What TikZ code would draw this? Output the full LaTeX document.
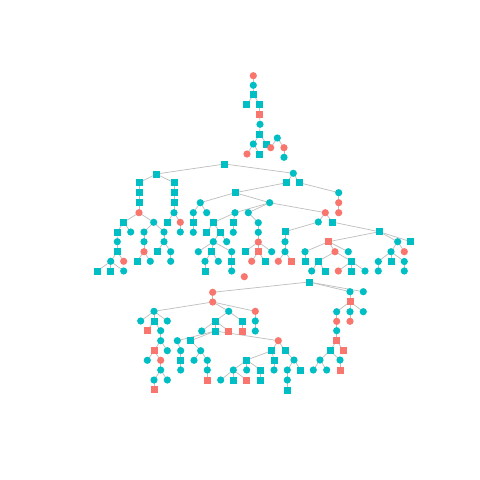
\documentclass[tikz,border=0pt]{standalone}
\usetikzlibrary{backgrounds}
\definecolor{cy}{HTML}{00BFC4}
\definecolor{rd}{HTML}{F8766D}
\definecolor{eg}{HTML}{BEBEBE}
\begin{document}
\begin{tikzpicture}[x=1pt,y=-1pt,
  cc/.style={circle,fill=cy,inner sep=0pt,minimum size=7.2pt},
  rc/.style={circle,fill=rd,inner sep=0pt,minimum size=7.2pt},
  cs/.style={rectangle,fill=cy,inner sep=0pt,minimum size=7pt},
  rs/.style={rectangle,fill=rd,inner sep=0pt,minimum size=7pt},
  edge/.style={draw=eg,line width=0.7pt}]
\useasboundingbox (0,0) rectangle (480,480);
% component A
\node[rc] (a1) at (253.3,75.7) {};
\node[cc] (a2) at (253.3,85.3) {};
\node[cs] (a3) at (253.5,94.7) {};
\node[cs] (a4) at (246.7,104.7) {};
\node[cs] (a5) at (259.7,104.7) {};
\node[rs] (a6) at (259.7,114.7) {};
\node[cc] (a7) at (260,124.3) {};
\node[cs] (a8) at (259.7,134.3) {};
\node[cc] (a9) at (253.3,144) {};
\node[cs] (a10) at (266.7,144) {};
\node[rc] (a11) at (247,154) {};
\node[cs] (a12) at (259.7,154) {};
% component B
\node[cc] (b1) at (277.3,138) {};
\node[rc] (b2) at (270.7,147.7) {};
\node[rc] (b3) at (284,147.7) {};
\node[cc] (b4) at (284,157.3) {};
% main component
\node[cs] (c0) at (224.7,164) {};
\node[cs] (L0) at (156.3,174) {};
\node[cs] (L1) at (139,182.7) {};
\node[cs] (L2) at (139,192.7) {};
\node[cs] (L3) at (139,202.7) {};
\node[rc] (L4) at (139,212.7) {};
\node[cs] (R1) at (174,182.7) {};
\node[cs] (R2) at (174,192.7) {};
\node[cs] (R3) at (174,202.7) {};
\node[cc] (R4) at (174,212.7) {};
\node[cs] (L5) at (123.7,222.3) {};
\node[cc] (L6) at (153.7,222.3) {};
\node[cs] (L7) at (117,232) {};
\node[cc] (L8) at (130.7,232) {};
\node[cc] (L9) at (117.3,241.7) {};
\node[cs] (L10) at (117.3,251.7) {};
\node[cc] (L11) at (110.7,261.3) {};
\node[rc] (L12) at (123.7,261.3) {};
\node[cs] (L13) at (97.3,271) {};
\node[cs] (L14) at (110.7,271) {};
\node[cc] (L15) at (123.7,271) {};
\node[cc] (L16) at (144,232) {};
\node[cc] (L17) at (164,232) {};
\node[cc] (L18) at (144,241.7) {};
\node[rc] (L19) at (144,251.7) {};
\node[cs] (L20) at (137,261.3) {};
\node[cc] (L21) at (150.3,261.3) {};
\node[cc] (L22) at (164,241.7) {};
\node[cs] (L23) at (157,251.7) {};
\node[cc] (L24) at (170.7,251.7) {};
\node[cc] (L25) at (170.7,261.3) {};
\node[cs] (R5) at (167,222.3) {};
\node[rc] (R6) at (180.3,222.3) {};
\node[cc] (R7) at (180.3,232) {};
\node[cc] (M0) at (293.3,173.3) {};
\node[cs] (M1) at (286.7,182.7) {};
\node[cs] (M2) at (299.3,182.7) {};
\node[cc] (M3) at (338.7,192.7) {};
\node[rc] (M4) at (338.7,202.7) {};
\node[rc] (M5) at (338.7,212.7) {};
\node[cs] (M6) at (235,192.7) {};
\node[cc] (M7) at (200.3,202.7) {};
\node[cc] (M8) at (269.7,202.7) {};
\node[cc] (M9) at (193.3,212.7) {};
\node[cc] (M10) at (206.7,212.7) {};
\node[cs] (M11) at (193.3,222.5) {};
\node[cc] (M12) at (193.3,232.3) {};
\node[cc] (M13) at (235,212.7) {};
\node[cc] (M14) at (248.3,212.7) {};
\node[rc] (M15) at (325.3,212.7) {};
\node[cs] (M16) at (213.3,222.7) {};
\node[cs] (M17) at (233.3,222.7) {};
\node[cs] (M18) at (206.7,232.3) {};
\node[cs] (M19) at (220,232.3) {};
\node[cc] (M20) at (213.3,241.7) {};
\node[cc] (M21) at (226.7,241.7) {};
\node[cc] (M22) at (198.3,251.7) {};
\node[cs] (M23) at (211.7,251.7) {};
\node[cc] (M24) at (231.7,251.7) {};
\node[cc] (M25) at (205,261.3) {};
\node[cc] (M26) at (218.3,261.3) {};
\node[cs] (M27) at (205,271) {};
\node[cs] (M28) at (231.7,261.3) {};
\node[cc] (M29) at (231.7,271) {};
\node[cc] (M30) at (233.3,232.3) {};
\node[cc] (M31) at (258.3,222.7) {};
\node[cc] (M32) at (258.3,232.3) {};
\node[rc] (M33) at (258.3,242) {};
\node[cs] (M34) at (245,251.7) {};
\node[rs] (M35) at (258.3,251.7) {};
\node[cc] (M36) at (271.7,251.7) {};
\node[rc] (M37) at (251.7,261.3) {};
\node[cs] (M38) at (265,261.3) {};
\node[cc] (M39) at (318.3,222) {};
\node[cs] (M40) at (332,222) {};
\node[cs] (M41) at (285,231.7) {};
\node[cc] (M42) at (285,241.7) {};
\node[cc] (M43) at (285,251.7) {};
\node[rc] (M44) at (278.3,261.3) {};
\node[rs] (M45) at (291.7,261.3) {};
\node[cs] (M46) at (379.3,231.7) {};
\node[rs] (M47) at (328.5,241.7) {};
\node[cc] (M48) at (397.7,241.7) {};
\node[cs] (M49) at (410.7,241.7) {};
\node[cc] (M50) at (305,251.7) {};
\node[cs] (M51) at (305,261.3) {};
\node[rc] (M52) at (335,251.7) {};
\node[cc] (M53) at (348.3,251.7) {};
\node[cs] (M54) at (318.3,261.3) {};
\node[cc] (M55) at (311.7,271) {};
\node[cs] (M56) at (325,271) {};
\node[cs] (M57) at (351.5,261.3) {};
\node[rc] (M58) at (338.3,271) {};
\node[cs] (M59) at (351.5,271) {};
\node[cc] (M60) at (365,271) {};
\node[cc] (M61) at (391,251.7) {};
\node[rc] (M62) at (404.3,251.7) {};
\node[cc] (M63) at (378.3,261.5) {};
\node[cs] (M64) at (391,261.5) {};
\node[cc] (M65) at (404.3,261.5) {};
\node[cc] (M66) at (378.3,271) {};
\node[cc] (M67) at (404.3,271) {};
% isolated
\node[rc] (F1) at (244.3,276.7) {};
% bottom component
\node[cs] (D0) at (309,282) {};
\node[rc] (D1) at (212.7,292.3) {};
\node[rc] (D2) at (212.7,302) {};
\node[cc] (D3) at (154,311.3) {};
\node[cc] (D4) at (228.7,311.3) {};
\node[rc] (D5) at (255.3,311.3) {};
\node[cc] (D6) at (140.7,321) {};
\node[cs] (D7) at (154,321) {};
\node[cc] (D8) at (167.3,321) {};
\node[rs] (D9) at (147.3,330.7) {};
\node[cc] (D10) at (160.7,330.7) {};
\node[cc] (D11) at (160.7,340.7) {};
\node[rs] (D12) at (154,350.7) {};
\node[cc] (D13) at (167.3,350.7) {};
\node[cc] (D14) at (147.3,360.3) {};
\node[rc] (D15) at (160.7,360.3) {};
\node[cc] (D16) at (160.7,370) {};
\node[cc] (D17) at (154,380) {};
\node[cc] (D18) at (167.3,380) {};
\node[rs] (D19) at (154,389.7) {};
\node[cs] (D20) at (215.3,321) {};
\node[cs] (D21) at (242,321) {};
\node[cc] (D22) at (201.7,331) {};
\node[cs] (D23) at (215.3,331) {};
\node[rs] (D24) at (228.7,331) {};
\node[rs] (D25) at (242,331) {};
\node[cc] (D26) at (255.3,321) {};
\node[cc] (D27) at (255.3,331) {};
\node[cc] (D28) at (177.3,340.7) {};
\node[cs] (D29) at (190.7,340.7) {};
\node[rc] (D30) at (278.3,340.7) {};
\node[cc] (D31) at (180.7,350.7) {};
\node[cs] (D32) at (180.7,360.3) {};
\node[cc] (D33) at (180.7,370) {};
\node[cc] (D34) at (200.7,350.7) {};
\node[cc] (D35) at (194,360.3) {};
\node[cc] (D36) at (207.3,360.3) {};
\node[cc] (D37) at (207.3,370) {};
\node[rs] (D38) at (207.3,380) {};
\node[cs] (D39) at (271.7,350.7) {};
\node[cs] (D40) at (285,350.7) {};
\node[cs] (D41) at (246.7,360) {};
\node[cs] (D42) at (274,360) {};
\node[cc] (D43) at (294,360) {};
\node[cc] (D44) at (233.3,370) {};
\node[cc] (D45) at (246.7,370) {};
\node[cs] (D46) at (260.7,370) {};
\node[cc] (D47) at (220.7,380) {};
\node[cs] (D48) at (233.3,380) {};
\node[rs] (D49) at (246.7,380) {};
\node[cs] (D50) at (260.7,380) {};
\node[cc] (D51) at (274,370) {};
\node[cc] (D52) at (287.3,370) {};
\node[cs] (D53) at (300.7,370) {};
\node[cc] (D54) at (287.3,380) {};
\node[cs] (D55) at (287.3,390) {};
\node[cc] (E1) at (350,291.7) {};
\node[cc] (E2) at (363.3,291.7) {};
\node[rs] (E3) at (350,301.7) {};
\node[cc] (E4) at (336.7,311.7) {};
\node[cc] (E5) at (350,311.7) {};
\node[cc] (E6) at (363.3,311.7) {};
\node[rc] (E7) at (336.7,321.3) {};
\node[rc] (E8) at (350,321.3) {};
\node[cc] (E9) at (336.7,330.7) {};
\node[rs] (E10) at (336.7,340.7) {};
\node[cs] (E11) at (330,350.7) {};
\node[rs] (E12) at (343.3,350.7) {};
\node[cc] (E13) at (320,360) {};
\node[cc] (E14) at (340,360) {};
\node[cc] (E15) at (313.3,370) {};
\node[cc] (E16) at (326.7,370) {};
\node[rs] (E17) at (340,370) {};
\begin{scope}[on background layer]
\fill[white] (0,0) rectangle (480,480);
\foreach \u/\v in {a1/a2,a2/a3,a3/a4,a3/a5,a5/a6,a6/a7,a7/a8,a8/a9,a8/a10,a9/a11,a9/a12,
  b1/b2,b1/b3,b3/b4,
  c0/L0,L0/L1,L1/L2,L2/L3,L3/L4,L0/R1,R1/R2,R2/R3,R3/R4,L4/L5,L4/L6,L5/L7,L5/L8,L7/L9,L9/L10,
  L10/L11,L10/L12,L11/L13,L11/L14,L11/L15,L6/L16,L6/L17,L16/L18,L18/L19,L19/L20,L19/L21,
  L17/L22,L22/L23,L22/L24,L24/L25,R4/R5,R4/R6,R6/R7,
  c0/M0,M0/M1,M0/M2,M2/M3,M3/M4,M4/M5,M1/M6,M6/M7,M6/M8,M7/M9,M7/M10,M9/M11,M11/M12,
  M8/M13,M8/M14,M8/M15,M13/M16,M13/M17,M16/M18,M16/M19,M19/M20,M19/M21,M20/M22,M20/M23,
  M20/M24,M23/M25,M23/M26,M25/M27,M24/M28,M28/M29,M17/M30,M14/M31,M31/M32,M32/M33,
  M33/M34,M33/M35,M33/M36,M35/M37,M35/M38,M15/M39,M15/M40,M39/M41,M41/M42,M42/M43,
  M43/M44,M43/M45,M40/M46,M46/M47,M46/M48,M46/M49,M47/M50,M50/M51,M47/M52,M47/M53,
  M52/M54,M54/M55,M54/M56,M52/M57,M57/M58,M57/M59,M57/M60,M48/M61,M48/M62,M61/M63,
  M61/M64,M61/M65,M63/M66,M65/M67,
  D0/D1,D1/D2,D2/D3,D2/D4,D2/D5,D3/D6,D3/D7,D3/D8,D7/D9,D7/D10,D10/D11,D11/D12,D11/D13,
  D12/D14,D12/D15,D15/D16,D16/D17,D16/D18,D17/D19,D4/D20,D4/D21,D21/D25,D5/D26,D26/D27,
  D20/D22,D20/D23,D20/D24,D23/D28,D23/D29,D23/D30,D28/D31,D31/D32,D32/D33,D29/D34,
  D34/D35,D34/D36,D36/D37,D37/D38,D30/D39,D30/D40,D39/D41,D39/D42,D42/D51,D41/D44,
  D41/D45,D41/D46,D44/D47,D44/D48,D44/D49,D46/D50,D40/D43,D43/D52,D43/D53,D52/D54,D54/D55,
  D0/E1,D0/E2,E1/E3,E3/E4,E3/E5,E3/E6,E4/E7,E7/E9,E9/E10,E5/E8,E10/E11,E10/E12,E11/E13,
  E11/E14,E13/E15,E13/E16,E14/E17}
  \draw[edge] (\u.center) -- (\v.center);
\end{scope}
\end{tikzpicture}
\end{document}
